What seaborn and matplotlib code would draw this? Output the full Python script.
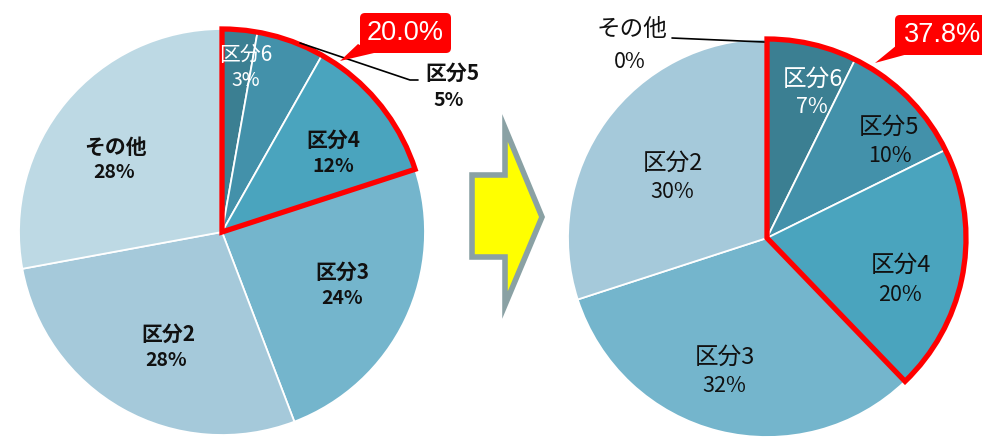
import numpy as np
import matplotlib
matplotlib.use("Agg")
import matplotlib.pyplot as plt
from matplotlib.patches import Wedge, FancyBboxPatch, Polygon
import seaborn as sns

# ---------------- data ----------------
categories = ["区分6", "区分5", "区分4", "区分3", "区分2", "その他"]
left_values = [2.8, 5.4, 11.8, 24.2, 27.9, 27.9]
right_values = [7.3, 10.4, 20.1, 32.2, 30.0, 0.0]
left_pct_labels = ["3%", "5%", "12%", "24%", "28%", "28%"]
right_pct_labels = ["7%", "10%", "20%", "32%", "30%", "0%"]
highlight_n = 3  # 区分6..区分4
left_callout = "20.0%"
right_callout = "37.8%"

# ---------------- style ----------------
sns.set_theme(style="white")
plt.rcParams['font.family'] = ['Noto Sans CJK JP', 'DejaVu Sans']
palette = sns.color_palette(["#3b7f92", "#4391aa", "#4aa4be", "#74b5cc", "#a5c9da", "#bdd9e4"])

W, H = 982, 438
fig = plt.figure(figsize=(W / 100, H / 100), dpi=100)
ax = fig.add_axes([0, 0, 1, 1])

def Y(y):
    return H - y

# pie geometry (pixels)
LC, LR = (222, 232), 203
RC, RR = (767, 238), 199

def draw_pie(values, center, radius):
    ax.pie(values, colors=palette, startangle=90, counterclock=False,
           radius=radius, center=(center[0], Y(center[1])),
           wedgeprops=dict(edgecolor="white", linewidth=1.3))
    # red outline around highlighted slices
    frac = sum(values[:highlight_n]) / sum(values)
    ax.add_patch(Wedge((center[0], Y(center[1])), radius, 90 - 360 * frac, 90,
                       fill=False, edgecolor="#ff0000", linewidth=3.8,
                       joinstyle="miter", zorder=5))

draw_pie(left_values, LC, LR)
draw_pie(right_values, RC, RR)

# ---------------- labels ----------------
left_pos = [((246, 55), (246, 80)), ((452, 73), (449, 100)), ((333, 140), (333, 167)),
            ((342, 272), (342, 298)), ((168, 334), (166, 360)), ((116, 147), (114, 173))]
right_pos = [((813, 79), (812, 107)), ((889, 127), (890, 156)), ((901, 265), (900, 295)),
             ((725, 357), (724, 386)), ((673, 163), (672, 192)), ((632, 30), (630, 62))]

for i, cat in enumerate(categories):
    (nx, ny), (px, py) = left_pos[i]
    col = "white" if i == 0 else "#111111"
    wt = "normal" if i == 0 else "bold"
    ax.text(nx, Y(ny), cat, ha="center", va="center", fontsize=15,
            color=col, fontweight=wt, zorder=6)
    ax.text(px, Y(py), left_pct_labels[i], ha="center", va="center", fontsize=14,
            color=col, fontweight=wt, zorder=6)

for i, cat in enumerate(categories):
    (nx, ny), (px, py) = right_pos[i]
    col = "white" if i == 0 else "#111111"
    ax.text(nx, Y(ny), cat, ha="center", va="center", fontsize=17,
            color=col, zorder=6)
    ax.text(px, Y(py), right_pct_labels[i], ha="center", va="center", fontsize=15.5,
            color=col, zorder=6)

# leader lines
ax.plot([300, 410, 418], [Y(43), Y(80), Y(80)], color="black", lw=1.2, zorder=6)
ax.plot([672, 764], [Y(38), Y(42)], color="black", lw=1.2, zorder=6)

# ---------------- callouts ----------------
def callout(x0, y0, x1, y1, tip, base, text):
    box = FancyBboxPatch((x0, Y(y1)), x1 - x0, y1 - y0,
                         boxstyle="round,pad=0,rounding_size=5",
                         facecolor="#ff0000", edgecolor="none", zorder=7)
    ax.add_patch(box)
    ax.add_patch(Polygon([(base[0][0], Y(base[0][1])), (tip[0], Y(tip[1])),
                          (base[1][0], Y(base[1][1]))], closed=True,
                         facecolor="#ff0000", edgecolor="none", zorder=7))
    ax.text((x0 + x1) / 2, Y((y0 + y1) / 2), text, ha="center", va="center",
            color="white", fontsize=19.5, family=["Liberation Sans", "DejaVu Sans"], zorder=8)

callout(360, 13, 451, 53, (340, 61), ((358, 44), (374, 53)), left_callout)
callout(895, 15, 990, 55, (875, 63), ((897, 45), (908, 54)), right_callout)

# ---------------- arrow ----------------
arrow_pts = [(472, 175), (505, 175), (505, 128), (542, 217), (505, 305), (505, 257), (472, 257)]
ax.add_patch(Polygon([(x, Y(y)) for x, y in arrow_pts], closed=True,
                     facecolor="#ffff00", edgecolor="#8aa1a4", linewidth=4,
                     joinstyle="miter", zorder=4))

ax.set_xlim(0, W)
ax.set_ylim(0, H)
ax.set_aspect("equal")
ax.axis("off")
fig.savefig("out.png", dpi=100)
